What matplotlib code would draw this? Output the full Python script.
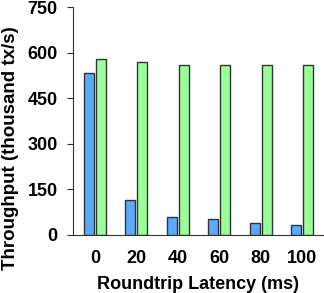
import numpy as np
import matplotlib
matplotlib.use("Agg")
import matplotlib.pyplot as plt

latency = ["0", "20", "40", "60", "80", "100"]
blue_vals = [533, 115, 59, 51, 40, 34]
green_vals = [579, 569, 559, 559, 559, 559]
yticks = [0, 150, 300, 450, 600, 750]

plt.rcParams["font.family"] = ["Liberation Sans", "DejaVu Sans"]
plt.rcParams["font.weight"] = "bold"

fig = plt.figure(figsize=(3.24, 2.93), dpi=100)
ax = fig.add_axes([0.225, 0.198, 0.775, 0.778])

x = np.arange(len(latency))
w = 0.24
ax.bar(x - 0.145, blue_vals, w, color="#5aaaff", edgecolor="#333333", linewidth=1)
ax.bar(x + 0.145, green_vals, w, color="#99ff99", edgecolor="#333333", linewidth=1)

ax.set_xlim(-0.53, 5.53)
ax.set_ylim(0, 750)
ax.set_yticks(yticks)
ax.set_xticks(x)
ax.set_xticklabels(latency)

ax.spines["top"].set_visible(False)
ax.spines["right"].set_visible(False)
ax.spines["left"].set_color("#333333")
ax.spines["bottom"].set_color("#333333")
ax.tick_params(axis="y", length=4, color="#333333", labelsize=13, pad=7)
ax.tick_params(axis="x", length=0, labelsize=13, pad=11)

ax.set_xlabel("Roundtrip Latency (ms)", fontsize=13, fontweight="bold", labelpad=6)
ax.set_ylabel("Throughput (thousand tx/s)", fontsize=13.5, fontweight="bold")
ax.yaxis.set_label_coords(-0.215, 0.38)

fig.savefig("out.png", dpi=100)
